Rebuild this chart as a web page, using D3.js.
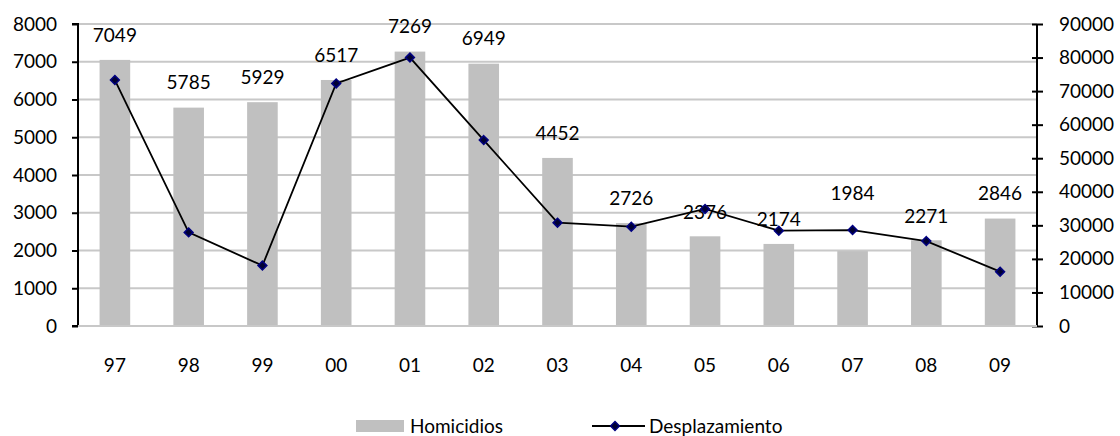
<!DOCTYPE html>
<html><head><meta charset="utf-8">
<script src="https://cdn.jsdelivr.net/npm/d3@7"></script>
<style>
body{margin:0;background:#fff;}
svg{display:block;font-family:Lato,"Open Sans",sans-serif;}
</style></head>
<body><svg id="c" width="1120" height="436"></svg>
<script>
const categories = ["97","98","99","00","01","02","03","04","05","06","07","08","09"];
const homicidios = [7049,5785,5929,6517,7269,6949,4452,2726,2376,2174,1984,2271,2846];
const desplazamiento = [73300,27900,18000,72300,80000,55400,30800,29600,34900,28400,28600,25300,16200];
const leftTicks = [0,1000,2000,3000,4000,5000,6000,7000,8000];
const rightTicks = [0,10000,20000,30000,40000,50000,60000,70000,80000,90000];
const seriesNames = ["Homicidios","Desplazamiento"];

// layout (not data)
const L = 78, R = 1037, T = 24, B = 326;
const FS = 19;
const labelLift = [25,25,25,25,25,25,25,25,24,25,58,24,25];

const svg = d3.select("#c");
const x = d3.scaleBand().domain(categories).range([L,R]).paddingInner(0.585).paddingOuter(0.2925);
const yL = d3.scaleLinear().domain([0,8000]).range([B,T]);
const yR = d3.scaleLinear().domain([0,90000]).range([B,T]);
const cx = c => x(c) + x.bandwidth()/2;

// gridlines
svg.append("g").selectAll("line").data(leftTicks).join("line")
  .attr("x1",L).attr("x2",R).attr("y1",d=>yL(d)).attr("y2",d=>yL(d))
  .attr("stroke","#c8c8c8").attr("stroke-width",2);

// bars
svg.append("g").selectAll("rect").data(homicidios).join("rect")
  .attr("x",(d,i)=>x(categories[i])).attr("width",x.bandwidth())
  .attr("y",d=>yL(d)).attr("height",d=>B-yL(d)).attr("fill","#c0c0c0");

// left axis
const ax = svg.append("g").attr("transform",`translate(${L},0)`)
  .call(d3.axisLeft(yL).tickValues(leftTicks).tickSize(6).tickPadding(15).tickFormat(d3.format("d")));
ax.select(".domain").attr("stroke","#000").attr("stroke-width",2).attr("d",`M-6,${T}H0V${B}H-6`);
ax.selectAll(".tick line").attr("stroke","#000").attr("stroke-width",2);
ax.selectAll("text").attr("font-size",FS).attr("fill","#000").attr("font-family","Lato");

// right axis
const ar = svg.append("g").attr("transform",`translate(${R},0)`)
  .call(d3.axisRight(yR).tickValues(rightTicks).tickSize(6).tickPadding(16).tickFormat(d3.format("d")));
ar.select(".domain").attr("stroke","#000").attr("stroke-width",2).attr("d",`M0,${T}V${B}`);
ar.selectAll(".tick line").attr("stroke","#000").attr("stroke-width",2).attr("x1",-5);
ar.selectAll("text").attr("font-size",FS).attr("fill","#000").attr("font-family","Lato");

// bottom axis
const ab = svg.append("g").attr("transform",`translate(0,${B})`)
  .call(d3.axisBottom(x).tickSize(0).tickPadding(33));
ab.select(".domain").attr("stroke","#c8c8c8").attr("stroke-width",2).attr("d",`M${L},0H${R}`);
ab.selectAll("text").attr("font-size",FS).attr("fill","#000").attr("font-family","Lato");

// bar labels
svg.append("g").selectAll("text").data(homicidios).join("text")
  .attr("x",(d,i)=>cx(categories[i])).attr("y",(d,i)=>yL(d)-labelLift[i])
  .attr("dy","0.35em").attr("text-anchor","middle").attr("font-size",FS).text(d=>d);

// line
const line = d3.line().x((d,i)=>cx(categories[i])).y(d=>yR(d));
svg.append("path").datum(desplazamiento).attr("d",line)
  .attr("fill","none").attr("stroke","#000").attr("stroke-width",1.8);
const diamond = d3.symbol().type(d3.symbolDiamond2).size(50);
svg.append("g").selectAll("path").data(desplazamiento).join("path")
  .attr("transform",(d,i)=>`translate(${cx(categories[i])},${yR(d)})`)
  .attr("d",diamond).attr("fill","#000033").attr("stroke","#000080").attr("stroke-width",1.5);

// legend
const lg = svg.append("g");
lg.append("rect").attr("x",356).attr("y",420).attr("width",48).attr("height",12).attr("fill","#c0c0c0");
lg.append("text").attr("x",410).attr("y",426).attr("dy","0.35em").attr("font-size",FS).text(seriesNames[0]);
lg.append("line").attr("x1",592).attr("x2",645).attr("y1",426).attr("y2",426).attr("stroke","#000").attr("stroke-width",2);
lg.append("path").attr("transform","translate(615,426)").attr("d",diamond).attr("fill","#000033").attr("stroke","#000080").attr("stroke-width",1.5);
lg.append("text").attr("x",649).attr("y",426).attr("dy","0.35em").attr("font-size",FS).text(seriesNames[1]);
</script></body></html>
